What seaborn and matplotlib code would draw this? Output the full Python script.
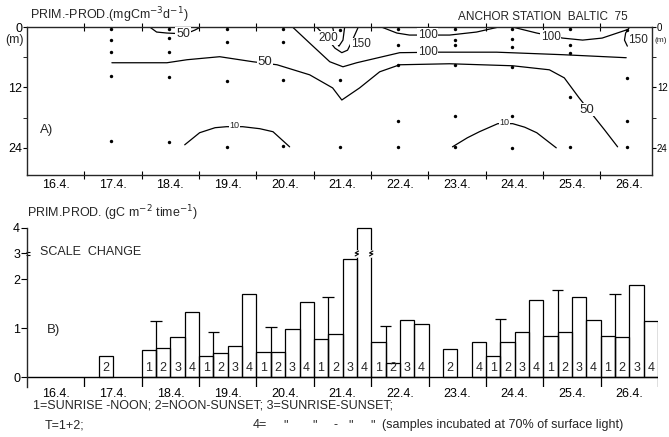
# plot.py
# Producción primaria - Anchor Station Baltic 75 (A: perfil, B: barras por día)

import numpy as np
import pandas as pd
import matplotlib
matplotlib.use("Agg")
import matplotlib.pyplot as plt
import seaborn as sns

# ---------------- Datos ----------------
day_labels = ["16.4.", "17.4.", "18.4.", "19.4.", "20.4.", "21.4.",
              "22.4.", "23.4.", "24.4.", "25.4.", "26.4."]
day_start = [16, 17, 18, 19, 20, 21, 22, 23, 24, 25, 26]

# A) estaciones de muestreo: día y profundidades (m)
station_day = [17.47, 18.47, 19.48, 20.46, 21.46, 22.47, 23.47, 24.46, 25.47, 26.46]
station_depth = [
    [0.3, 2.6, 5.0, 9.7, 22.6],
    [0.3, 2.2, 5.0, 9.9, 22.8],
    [0.3, 3.0, 10.7, 23.8],
    [0.3, 3.0, 10.5, 23.6],
    [0.5, 10.5, 23.8],
    [0.3, 3.6, 7.5, 18.6, 23.8],
    [0.3, 2.6, 3.6, 7.5, 17.6, 23.8],
    [0.3, 2.4, 4.0, 7.9, 17.6, 24.0],
    [0.3, 3.6, 5.1, 13.9, 23.8],
    [0.5, 10.1, 18.6, 23.8],
]

# A) isolíneas (mgC m-3 d-1): día / profundidad
iso50a_day = [18.14, 18.26, 18.44, 18.63, 18.80, 18.93, 19.01]
iso50a_depth = [0.0, 1.0, 1.2, 1.3, 1.2, 0.6, 0.1]
iso50b_day = [17.48, 18.44, 18.79, 19.36, 19.94, 20.36, 20.93, 21.33, 21.49, 21.80,
              22.15, 22.50, 23.37, 24.47, 25.11, 25.37, 25.63, 26.07, 26.30]
iso50b_depth = [7.1, 7.1, 6.5, 5.9, 6.9, 7.5, 9.5, 12.1, 14.5, 12.1,
                8.9, 7.5, 7.3, 7.7, 8.5, 10.1, 14.1, 20.4, 23.8]
iso100a_day = [20.63, 20.93, 21.28, 21.51, 21.75, 22.20, 22.50, 23.20, 24.19, 25.34, 26.45]
iso100a_depth = [0.0, 3.2, 6.9, 7.9, 7.1, 5.9, 5.1, 5.0, 5.0, 5.5, 6.1]
iso100b_day = [22.18, 22.45, 22.67, 23.37, 23.84, 24.19]
iso100b_depth = [0.0, 1.2, 1.6, 1.6, 1.0, 0.1]
iso100c_day = [24.50, 24.89, 25.34, 25.69, 26.03, 26.45]
iso100c_depth = [0.1, 1.2, 2.2, 2.6, 2.2, 0.6]
iso150a_day = [21.05, 21.23, 21.37, 21.49, 21.59, 21.66, 21.77]
iso150a_depth = [0.0, 2.2, 4.2, 5.1, 4.6, 3.0, 0.2]
iso150b_day = [26.51, 26.44, 26.42, 26.47]
iso150b_depth = [0.0, 1.2, 2.6, 3.8]
iso200_day = [21.33, 21.37, 21.44, 21.51, 21.54]
iso200_depth = [0.0, 2.2, 3.8, 2.6, 0.0]
iso10a_day = [18.75, 19.01, 19.28, 19.48, 19.76, 20.06, 20.29, 20.58]
iso10a_depth = [23.4, 21.0, 20.0, 19.8, 19.8, 20.2, 20.8, 23.8]
iso10b_day = [23.42, 23.68, 23.89, 24.21, 24.47, 24.68, 24.89, 25.23]
iso10b_depth = [23.8, 22.0, 20.8, 19.2, 19.2, 19.9, 21.0, 24.0]

# B) producción integrada (gC m-2 tiempo-1): día, tipo de incubación 1-4, valor
bar_day = [17,
           18, 18, 18, 18,
           19, 19, 19, 19,
           20, 20, 20, 20,
           21, 21, 21, 21,
           22, 22, 22, 22,
           23, 23,
           24, 24, 24, 24,
           25, 25, 25, 25,
           26, 26, 26, 26]
bar_slot = [2,
            1, 2, 3, 4,
            1, 2, 3, 4,
            1, 2, 3, 4,
            1, 2, 3, 4,
            1, 2, 3, 4,
            2, 4,
            1, 2, 3, 4,
            1, 2, 3, 4,
            1, 2, 3, 4]
bar_value = [0.43,
             0.55, 0.59, 0.82, 1.33,
             0.43, 0.49, 0.63, 1.70,
             0.51, 0.51, 0.98, 1.53,
             0.78, 0.88, 2.77, 4.00,
             0.71, 0.29, 1.18, 1.08,
             0.57, 0.71,
             0.43, 0.73, 0.92, 1.57,
             0.84, 0.92, 1.65, 1.16,
             0.84, 0.82, 1.88, 1.14]
# T = 1+2
t_day = [18, 19, 20, 21, 22, 24, 25, 26]
t_value = [1.14, 0.92, 1.02, 1.63, 1.04, 1.20, 1.79, 1.71]


def escala(v):
    """Cambio de escala por encima de 2 (mitad de altura)."""
    v = np.asarray(v, dtype=float)
    return np.where(v <= 2, v, 2 + (v - 2) * 0.53)


# ---------------- Estilo ----------------
sns.set_style("ticks")
plt.rcParams["font.family"] = ["Liberation Sans", "DejaVu Sans"]
plt.rcParams["axes.linewidth"] = 1.0
plt.rcParams["xtick.color"] = "black"
plt.rcParams["ytick.color"] = "black"

fig = plt.figure(figsize=(6.69, 4.37), dpi=100)
ax_a = fig.add_axes([0.0404, 0.5995, 0.9342, 0.3387])
ax_b = fig.add_axes([0.0404, 0.1144, 0.9432, 0.366])

centers = [d + 0.5 for d in day_start]

# ---------------- Panel A ----------------
pts = pd.DataFrame({
    "dia": [d for d, zs in zip(station_day, station_depth) for _ in zs],
    "prof": [z for zs in station_depth for z in zs],
})
sns.scatterplot(data=pts, x="dia", y="prof", s=6, color="black",
                linewidth=0, legend=False, ax=ax_a, zorder=4)

isolineas = [
    (iso50a_day, iso50a_depth), (iso50b_day, iso50b_depth),
    (iso100a_day, iso100a_depth), (iso100b_day, iso100b_depth),
    (iso100c_day, iso100c_depth), (iso150a_day, iso150a_depth),
    (iso150b_day, iso150b_depth), (iso200_day, iso200_depth),
    (iso10a_day, iso10a_depth), (iso10b_day, iso10b_depth),
]
for d, z in isolineas:
    sns.lineplot(x=d, y=z, sort=False, estimator=None, color="black",
                 linewidth=0.9, ax=ax_a)

etiquetas = [("50", 18.72, 1.3, 9), ("50", 20.15, 6.9, 9.5), ("50", 25.77, 16.4, 9.5),
             ("100", 22.99, 1.6, 8.5), ("100", 22.99, 5.0, 8.5), ("100", 25.13, 1.9, 8.5),
             ("150", 21.82, 3.4, 8.5), ("150", 26.66, 2.6, 8.5), ("200", 21.26, 2.2, 8.5),
             ("10", 19.62, 19.5, 6.5), ("10", 24.33, 19.0, 6.5)]
for txt, d, z, fs in etiquetas:
    ax_a.text(d, z, txt, fontsize=fs, ha="center", va="center", zorder=6,
              bbox=dict(boxstyle="square,pad=0.05", fc="white", ec="none"))

ax_a.set_xlim(16, 26.9)
ax_a.set_ylim(29.4, 0)
ax_a.set_xlabel("")
ax_a.set_ylabel("")
ax_a.set_xticks(day_start[1:])
ax_a.set_xticklabels([])
ax_a.set_xticks(centers, minor=True)
ax_a.set_xticklabels(day_labels, minor=True)
ax_a.tick_params(axis="x", which="major", direction="inout", length=6, top=True)
ax_a.tick_params(axis="x", which="minor", length=0, pad=3, labelsize=9)
ax_a.set_yticks([0, 12, 24])
ax_a.set_yticks([6, 18], minor=True)
ax_a.tick_params(axis="y", which="both", left=True, direction="out", length=4,
                 pad=1, labelsize=9)
ax_a.tick_params(axis="y", which="both", right=True, labelright=True, length=3,
                 pad=0.5)
for t in ax_a.yaxis.get_major_ticks():
    t.label2.set_fontsize(7)
for sp in ax_a.spines.values():
    sp.set_visible(True)
    sp.set_linewidth(1.0)
ax_a.text(16.23, 20.4, "A)", fontsize=9.5, va="center")

# ---------------- Panel B ----------------
barras = pd.DataFrame({
    "pos": [d + (s - 0.5) / 4 for d, s in zip(bar_day, bar_slot)],
    "alto": escala(bar_value),
})
sns.barplot(data=barras, x="pos", y="alto", native_scale=True, width=1,
            fill=False, color="black", linewidth=0.9, errorbar=None, ax=ax_b)

for p, s in zip(barras["pos"], bar_slot):
    ax_b.text(p, 0.19, str(s), fontsize=9, ha="center", va="center")

# marcas T = 1+2
t_pos = [d + 0.25 for d in t_day]
ax_b.vlines(t_pos, 0, escala(t_value), color="black", linewidth=0.9)
ax_b.hlines(escala(t_value), [p - 0.1 for p in t_pos], [p + 0.1 for p in t_pos],
            color="black", linewidth=0.9)

# corte de la barra 21.4 / 4
yb = float(escala(3.0))
for xe in (21.75, 22.0):
    ax_b.plot([xe, xe], [yb - 0.05, yb + 0.05], color="white", linewidth=2, zorder=5)
    ax_b.plot([xe - 0.03, xe + 0.03, xe - 0.03, xe + 0.03],
              [yb - 0.05, yb - 0.01, yb + 0.01, yb + 0.05],
              color="black", linewidth=0.8, zorder=6)

ax_b.axhline(0, color="black", linewidth=1.0)
ax_b.vlines(day_start[1:] + [27], -0.2, 0, color="black", linewidth=0.9)

ax_b.set_xlim(16, 27)
ax_b.set_ylim(-0.2, float(escala(4)) + 0.01)
ax_b.set_xlabel("")
ax_b.set_ylabel("")
sns.despine(ax=ax_b, bottom=True)
ax_b.spines["left"].set_bounds(-0.2, float(escala(4)))
ax_b.set_yticks(escala([0, 1, 2, 3, 4]))
ax_b.set_yticklabels(["0", "1", "2", "3", "4"])
ax_b.tick_params(axis="y", direction="out", length=4, pad=1, labelsize=9)
ax_b.set_xticks(centers)
ax_b.set_xticklabels(day_labels)
ax_b.tick_params(axis="x", length=0, pad=1, labelsize=9)

# señal de cambio de escala en el eje
y3 = float(escala(3))
ax_b.hlines([y3 - 0.04, y3 + 0.04], 15.98, 16.06, color="black", linewidth=0.8,
            clip_on=False)

ax_b.text(16.23, 2.55, "SCALE  CHANGE", fontsize=9, va="center")
ax_b.text(16.35, 0.96, "B)", fontsize=9.5, va="center")

# ---------------- Textos ----------------
fig.text(0.045, 0.966, "PRIM.-PROD.(mgCm$^{-3}$d$^{-1}$)", fontsize=9, va="center")
fig.text(0.685, 0.961, "ANCHOR STATION  BALTIC  75", fontsize=8.5, va="center")
fig.text(0.022, 0.908, "(m)", fontsize=9, ha="center", va="center")
fig.text(0.978, 0.908, "(m)", fontsize=6, ha="left", va="center")
fig.text(0.040, 0.513, "PRIM.PROD. (gC m$^{-2}$ time$^{-1}$)", fontsize=9, va="center")
fig.text(0.049, 0.071, "1=SUNRISE -NOON; 2=NOON-SUNSET; 3=SUNRISE-SUNSET;",
         fontsize=9, va="center")
fig.text(0.067, 0.027, "T=1+2;", fontsize=9, va="center")
fig.text(253 / 669, 0.027, "4=", fontsize=9, va="center")
for xp, txt in [(283, '"'), (312, '"'), (333, "-"), (348, '"'), (370, '"')]:
    fig.text(xp / 669, 0.027, txt, fontsize=9, va="center")
fig.text(382 / 669, 0.027, "(samples incubated at 70% of surface light)",
         fontsize=9, va="center")

fig.savefig("out.png", dpi=100)
